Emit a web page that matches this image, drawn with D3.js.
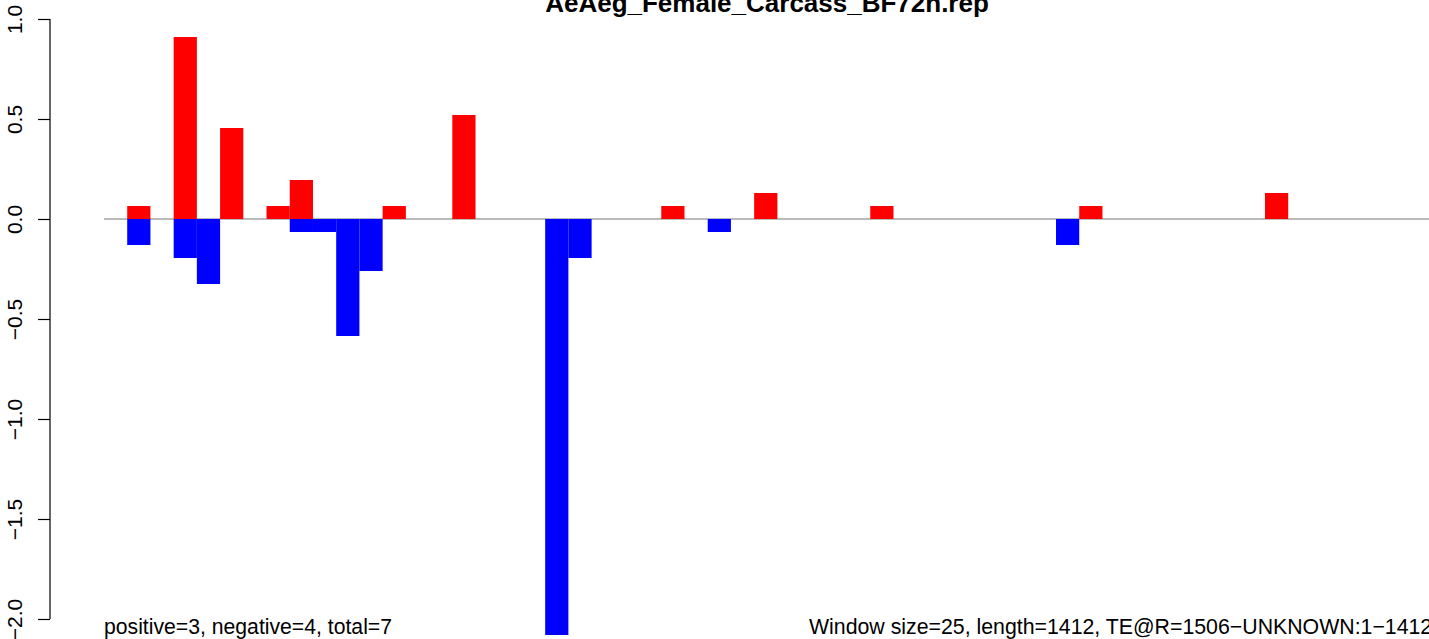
<!DOCTYPE html>
<html>
<head>
<meta charset="utf-8">
<script src="https://cdn.jsdelivr.net/npm/d3@7"></script>
<style>
  html, body { margin: 0; padding: 0; background: #fff; }
  svg { display: block; font-family: "Liberation Sans", Arial, sans-serif; }
</style>
</head>
<body>
<script>
// ---- data ----
const title = "AeAeg_Female_Carcass_BF72h.rep";
const windowSize = 25;
const seqLength = 1412;
const posWindows = [1, 3, 5, 7, 8, 12, 15, 24, 28, 33, 42, 50];
const posValues  = [0.065, 0.91, 0.455, 0.065, 0.195, 0.065, 0.52, 0.065, 0.13, 0.065, 0.065, 0.13];
const negWindows = [1, 3, 4, 8, 9, 10, 11, 19, 20, 26, 41];
const negValues  = [-0.13, -0.195, -0.325, -0.065, -0.065, -0.585, -0.26, -2.08, -0.195, -0.065, -0.13];
const yTicks = [-2.0, -1.5, -1.0, -0.5, 0.0, 0.5, 1.0];
const leftNote = "positive=3, negative=4, total=7";
const rightNote = "Window size=25, length=1412, TE@R=1506\u2212UNKNOWN:1\u22121412";

// ---- layout ----
const W = 1429, H = 639;
const svg = d3.select("body").append("svg").attr("width", W).attr("height", H);

const x = d3.scaleLinear().domain([0, seqLength]).range([104, 104 + seqLength * 23.22 / windowSize]);
const y = d3.scaleLinear().domain([-2, 1]).range([619, 19]);

// zero line
svg.append("line")
  .attr("x1", x(0)).attr("x2", W)
  .attr("y1", y(0)).attr("y2", y(0))
  .attr("stroke", "#a3a3a3").attr("stroke-width", 1.3);

// bars
const pos = posWindows.map((w, i) => ({w, v: posValues[i]}));
const neg = negWindows.map((w, i) => ({w, v: negValues[i]}));

svg.append("g").selectAll("rect").data(pos).join("rect")
  .attr("x", d => x(d.w * windowSize))
  .attr("width", d => x((d.w + 1) * windowSize) - x(d.w * windowSize))
  .attr("y", d => y(d.v))
  .attr("height", d => y(0) - y(d.v))
  .attr("fill", "#ff0000");

svg.append("g").selectAll("rect").data(neg).join("rect")
  .attr("x", d => x(d.w * windowSize))
  .attr("width", d => x((d.w + 1) * windowSize) - x(d.w * windowSize))
  .attr("y", y(0))
  .attr("height", d => y(d.v) - y(0))
  .attr("fill", "#0000ff");

// y axis (R style)
const axisX = 50;
const ax = svg.append("g").attr("transform", `translate(${axisX},0)`);
const axis = d3.axisLeft(y).tickValues(yTicks).tickSize(12).tickPadding(0)
  .tickFormat(d => d3.format(".1f")(d).replace("-", "\u2212"));
ax.call(axis);
ax.select(".domain").attr("d", `M0,${y(-2)}V${y(1)}`).attr("stroke", "#000").attr("stroke-width", 1.2);
ax.selectAll(".tick line").attr("stroke", "#000").attr("stroke-width", 1.2);
ax.selectAll(".tick text")
  .attr("x", null).attr("dy", null)
  .attr("transform", "translate(-28,0) rotate(-90)")
  .attr("text-anchor", "middle")
  .attr("fill", "#000")
  .style("font-size", "21px")
  .style("font-family", "'Liberation Sans', Arial, sans-serif");

// title
svg.append("text")
  .attr("x", 767).attr("y", 11.5)
  .attr("text-anchor", "middle")
  .style("font-weight", "bold")
  .style("font-size", "26px")
  .text(title);

// bottom notes
svg.append("text")
  .attr("x", x(0)).attr("y", 634)
  .style("font-size", "21.2px")
  .text(leftNote);

svg.append("text")
  .attr("x", 809).attr("y", 634)
  .style("font-size", "21.3px")
  .text(rightNote);
</script>
</body>
</html>
